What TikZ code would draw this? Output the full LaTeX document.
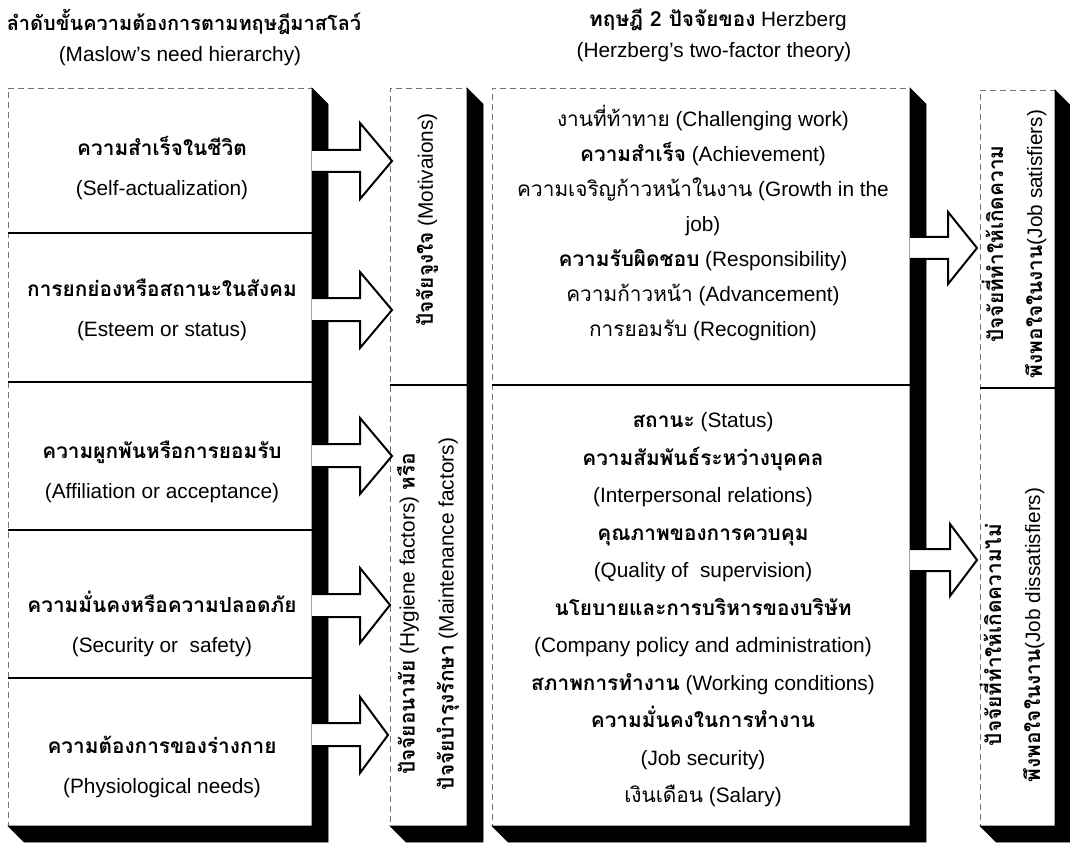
\documentclass[tikz,border=0pt]{standalone}
\usepackage{fontspec}
\setmainfont{Liberation Sans}
\newfontfamily\thaifont[Script=Thai]{Loma}
\newcommand{\thai}[1]{{\thaifont #1}}
\newcommand{\thaib}[1]{{\thaifont\bfseries #1}}

\begin{document}
\begin{tikzpicture}[x=0.5pt, y=-0.5pt, thick]
\tikzstyle{panel}=[rectangle, draw=black!55, densely dashed, thin, fill=white, inner sep=0, outer sep=0]
\tikzstyle{shade}=[fill=black, draw=black, line width=0.3pt]
\tikzstyle{txt}=[align=center, font=\fontsize{10.4}{20}\selectfont]
\tikzstyle{lst}=[align=center, font=\fontsize{10.4}{17.5}\selectfont]
\tikzstyle{side}=[align=center, rotate=90, font=\fontsize{10.4}{19.5}\selectfont]
\tikzstyle{hollow}=[fill=white, draw=black, line width=1pt, line join=miter]
\tikzstyle{divider}=[draw=black, line width=0.8pt]

\useasboundingbox (0,0) rectangle (1070,850);

	%panels
	\node[panel, minimum width=152pt, minimum height=369pt] (maslow_box) at (160,457) {};
	\node[panel, minimum width=38.5pt, minimum height=369pt] (factor_box) at (428.5,457) {};
	\node[panel, minimum width=209pt, minimum height=369pt] (herz_box) at (701,457) {};
	\node[panel, minimum width=37.5pt, minimum height=368pt] (result_box) at (1017.5,458) {};

	%shadows
	\fill[shade] (maslow_box.north east) -- ++(16,16) -- ++(0,738) -- ++(-304,0) -- (maslow_box.south west) -- (maslow_box.south east) -- cycle;
	\fill[shade] (factor_box.north east) -- ++(16,16) -- ++(0,738) -- ++(-77,0) -- (factor_box.south west) -- (factor_box.south east) -- cycle;
	\fill[shade] (herz_box.north east) -- ++(16,16) -- ++(0,738) -- ++(-418,0) -- (herz_box.south west) -- (herz_box.south east) -- cycle;
	\fill[shade] (result_box.north east) -- ++(16,16) -- ++(0,736) -- ++(-75,0) -- (result_box.south west) -- (result_box.south east) -- cycle;

	%dividers
	\draw[divider] (8,233) -- (312,233);
	\draw[divider] (8,382) -- (312,382);
	\draw[divider] (8,530) -- (312,530);
	\draw[divider] (8,678) -- (312,678);
	\draw[divider] (390,385) -- (467,385);
	\draw[divider] (492,385) -- (910,385);
	\draw[divider] (980,388) -- (1055,388);

	%arrows
	\draw[hollow] (312,150) -- (360,150) -- (360,123) -- (392,161) -- (360,199) -- (360,172) -- (312,172);
	\draw[hollow] (312,298) -- (360,298) -- (360,272) -- (392,310) -- (360,348) -- (360,321) -- (312,321);
	\draw[hollow] (312,444) -- (360,444) -- (360,418) -- (392,456) -- (360,494) -- (360,467) -- (312,467);
	\draw[hollow] (312,594) -- (360,594) -- (360,568) -- (390,605) -- (360,643) -- (360,617) -- (312,617);
	\draw[hollow] (312,723) -- (360,723) -- (360,697) -- (388,735) -- (360,773) -- (360,746) -- (312,746);
	\draw[hollow] (910,237) -- (948,237) -- (948,212) -- (977,248) -- (948,284) -- (948,259) -- (910,259);
	\draw[hollow] (910,549) -- (950,549) -- (950,524) -- (977,560) -- (950,596) -- (950,571) -- (910,571);

	%titles
	\node[txt, font=\fontsize{10}{20}\selectfont] (maslow_title) at (184,22) {\thaib{ลำดับขั้นความต้องการตามทฤษฎีมาสโลว์}};
	\node[txt] (maslow_sub) at (180,56) {(Maslow’s need hierarchy)};
	\node[txt] (herz_title) at (718,20) {\thaib{ทฤษฎี 2 ปัจจัยของ} Herzberg};
	\node[txt] (herz_sub) at (714,52) {(Herzberg’s two-factor theory)};

	%needs
	\node[txt] (self_act) at (162,168) {\thaib{ความสำเร็จในชีวิต}\\(Self-actualization)};
	\node[txt] (esteem) at (162,310) {\thaib{การยกย่องหรือสถานะในสังคม}\\(Esteem or status)};
	\node[txt] (affil) at (162,472) {\thaib{ความผูกพันหรือการยอมรับ}\\(Affiliation or acceptance)};
	\node[txt] (safety) at (162,624) {\thaib{ความมั่นคงหรือความปลอดภัย}\\(Security or~~safety)};
	\node[txt] (physio) at (162,767) {\thaib{ความต้องการของร่างกาย}\\(Physiological needs)};

	%factor labels
	\node[side] (motiv) at (427,220) {\thaib{ปัจจัยจูงใจ} (Motivaions)};
	\node[side] (hygiene) at (428,614) {\thaib{ปัจจัยอนามัย} (Hygiene factors) \thaib{หรือ}\\\thaib{ปัจจัยบำรุงรักษา} (Maintenance factors)};

	%herzberg lists
	\node[lst] (motiv_list) at (703,223) {\thai{งานที่ท้าทาย} (Challenging work)\\\thaib{ความสำเร็จ} (Achievement)\\\thai{ความเจริญก้าวหน้าในงาน} (Growth in the\\job)\\\thaib{ความรับผิดชอบ} (Responsibility)\\\thai{ความก้าวหน้า} (Advancement)\\\thai{การยอมรับ} (Recognition)};
	\node[lst, font=\fontsize{10.4}{18.75}\selectfont] (hyg_list) at (703,610) {\thaib{สถานะ} (Status)\\\thaib{ความสัมพันธ์ระหว่างบุคคล}\\(Interpersonal relations)\\\thaib{คุณภาพของการควบคุม}\\(Quality of~~supervision)\\\thaib{นโยบายและการบริหารของบริษัท}\\(Company policy and administration)\\\thaib{สภาพการทำงาน} (Working conditions)\\\thaib{ความมั่นคงในการทำงาน}\\(Job security)\\\thai{เงินเดือน} (Salary)};

	%results
	\node[side] (satisf) at (1014,244) {\thaib{ปัจจัยที่ทำให้เกิดความ}\\\thaib{พึงพอใจในงาน}(Job satisfiers)};
	\node[side] (dissatisf) at (1012,635) {\thaib{ปัจจัยที่ทำให้เกิดความไม่}\\\thaib{พึงพอใจในงาน}(Job dissatisfiers)};

\end{tikzpicture}
\end{document}
